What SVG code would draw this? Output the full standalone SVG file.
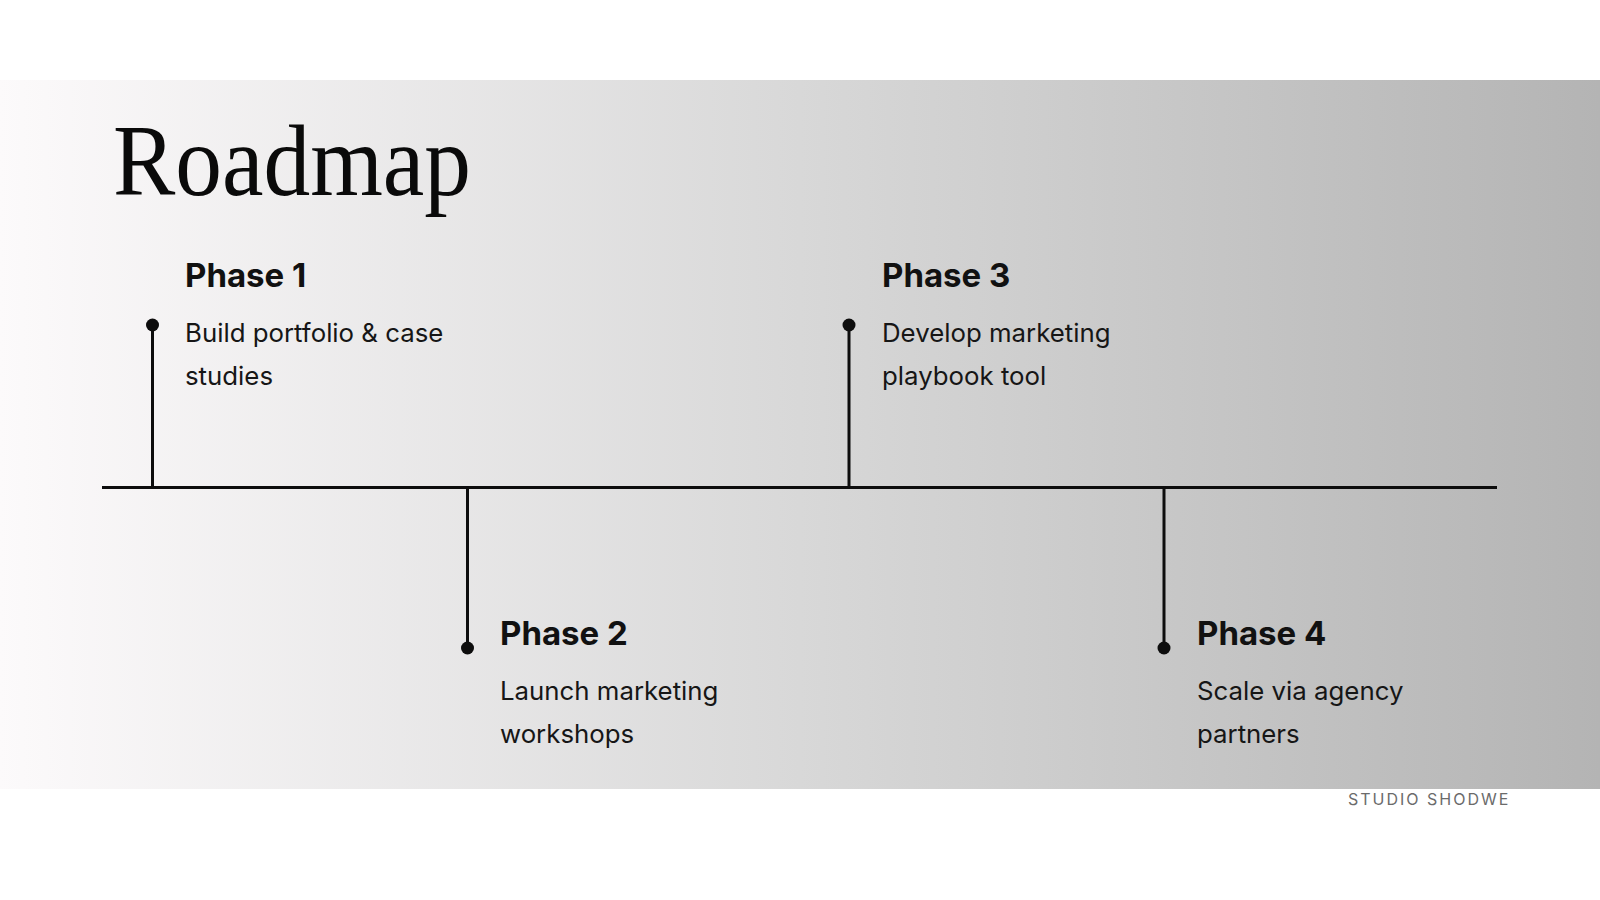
<svg xmlns="http://www.w3.org/2000/svg" width="1600" height="900" viewBox="0 0 1600 900">
<defs>
<linearGradient id="bg" x1="0" y1="0" x2="1" y2="0">
<stop offset="0" stop-color="#fcfafb"/>
<stop offset="0.5" stop-color="#d8d8d8"/>
<stop offset="1" stop-color="#b4b4b4"/>
</linearGradient>
<style>
.title{font-family:"Liberation Serif",serif;font-size:102px;fill:#0a0a0a}
.head{font-family:Inter,"Noto Sans",sans-serif;font-size:33px;font-weight:700;fill:#111}
.body{font-family:Inter,"Noto Sans",sans-serif;font-size:25.8px;fill:#161616}
.stem{stroke:#0d0d0d;stroke-width:3;fill:none}
.dot{fill:#0d0d0d}
.foot{font-family:Inter,"Noto Sans",sans-serif;font-size:16px;letter-spacing:2px;fill:#6b6b6b}
</style>
</defs>
<rect x="0" y="0" width="1600" height="900" fill="#ffffff"/>
<rect x="0" y="80" width="1600" height="709" fill="url(#bg)"/>
<text class="title" x="113" y="195" textLength="358" lengthAdjust="spacingAndGlyphs">Roadmap</text>
<g id="connectors">
<line class="stem" x1="102" y1="487.5" x2="1497" y2="487.5"/>
<line class="stem" x1="152.5" y1="325" x2="152.5" y2="487"/>
<line class="stem" x1="467.5" y1="487" x2="467.5" y2="648"/>
<line class="stem" x1="849" y1="325" x2="849" y2="487"/>
<line class="stem" x1="1164" y1="487" x2="1164" y2="648"/>
</g>
<g id="phase1">
<circle class="dot" cx="152.5" cy="325" r="6.5"/>
<text class="head" x="185" y="287">Phase 1</text>
<text class="body" x="185" y="342">Build portfolio &amp; case</text>
<text class="body" x="185" y="385">studies</text>
</g>
<g id="phase2">
<circle class="dot" cx="467.5" cy="648" r="6.5"/>
<text class="head" x="500" y="645">Phase 2</text>
<text class="body" x="500" y="700">Launch marketing</text>
<text class="body" x="500" y="743">workshops</text>
</g>
<g id="phase3">
<circle class="dot" cx="849" cy="325" r="6.5"/>
<text class="head" x="882" y="287">Phase 3</text>
<text class="body" x="882" y="342">Develop marketing</text>
<text class="body" x="882" y="385">playbook tool</text>
</g>
<g id="phase4">
<circle class="dot" cx="1164" cy="648" r="6.5"/>
<text class="head" x="1197" y="645">Phase 4</text>
<text class="body" x="1197" y="700">Scale via agency</text>
<text class="body" x="1197" y="743">partners</text>
</g>
<text class="foot" x="1348" y="805">STUDIO SHODWE</text>
</svg>
